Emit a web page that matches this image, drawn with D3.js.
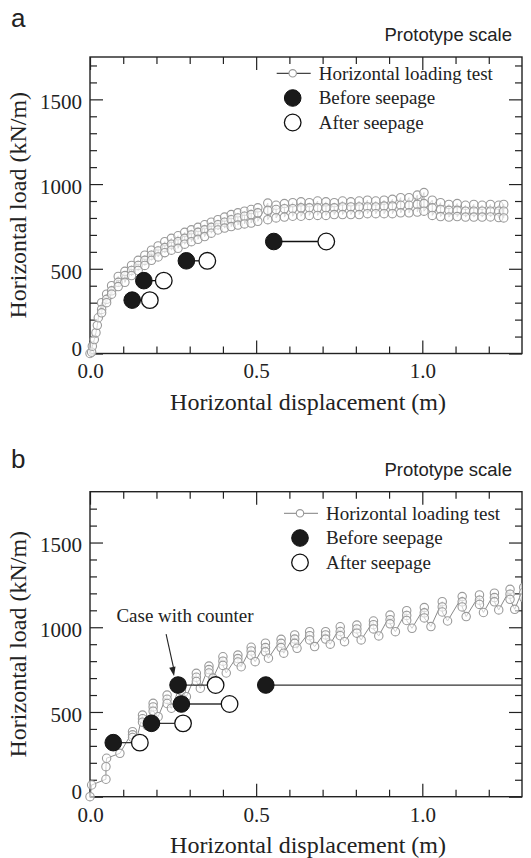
<!DOCTYPE html>
<html>
<head>
<meta charset="utf-8">
<script src="https://cdn.jsdelivr.net/npm/d3@7"></script>
<style>
  body { margin: 0; background: #fff; }
  svg text { font-family: "Liberation Serif", "Times New Roman", serif; fill: #222; }
</style>
</head>
<body>
<div id="chart"></div>
<script>
// tick labels
const xMajor = [0, 0.5, 1.0];
const yMajor = [0, 500, 1000, 1500];

// panel a: horizontal loading test (start of curve, then load cycles)
const aStartX = [0, 0.005, 0.007, 0.013, 0.018, 0.022, 0.025];
const aStartY = [0, 8, 43, 82, 123, 166, 211];
const aCycX   = [0.035, 0.05, 0.065, 0.085, 0.105, 0.125, 0.145, 0.165, 0.185, 0.205, 0.225, 0.245, 0.265, 0.285, 0.305, 0.325, 0.345, 0.365, 0.385, 0.405, 0.425, 0.445, 0.465, 0.485, 0.505, 0.535, 0.56, 0.585, 0.61, 0.635, 0.66, 0.685, 0.71, 0.735, 0.76, 0.785, 0.81, 0.835, 0.86, 0.885, 0.91, 0.935, 0.96, 0.985, 1.005, 1.03, 1.055, 1.08, 1.105, 1.13, 1.155, 1.18, 1.205, 1.23, 1.245];
const aCycTop = [300, 350, 400, 455, 485, 520, 550, 580, 610, 635, 660, 680, 695, 715, 730, 745, 760, 775, 790, 805, 820, 830, 840, 850, 860, 888, 875, 885, 890, 895, 890, 900, 895, 890, 900, 895, 900, 905, 900, 905, 910, 920, 920, 935, 950, 905, 890, 880, 885, 875, 880, 875, 880, 875, 880];
const aCycMid = [260, 320, 370, 420, 460, 490, 520, 550, 580, 605, 625, 645, 660, 680, 700, 715, 730, 745, 760, 775, 790, 800, 810, 820, 830, 845, 850, 855, 855, 860, 860, 860, 860, 860, 865, 865, 865, 865, 865, 870, 870, 875, 875, 880, 885, 860, 850, 845, 845, 840, 840, 840, 840, 840, 840];
const aCycLow = [240, 300, 350, 395, 420, 460, 490, 520, 550, 570, 595, 610, 621, 645, 660, 674, 690, 710, 729, 740, 749, 758, 765, 770, 780, 790, 800, 805, 810, 810, 815, 815, 815, 820, 820, 820, 820, 825, 825, 825, 825, 830, 830, 835, 840, 815, 808, 805, 808, 805, 805, 805, 806, 802, 800];

// panel a: seepage tests
const aBeforeX = [0.127, 0.162, 0.29, 0.553];
const aAfterX  = [0.18, 0.222, 0.353, 0.711];
const aLoad    = [315, 430, 547, 661];

// panel b: horizontal loading test
const bStartX = [0, 0.005, 0.048, 0.048, 0.05, 0.09];
const bStartY = [0, 69, 103, 177, 227, 256];
const bCycX    = [0.128, 0.158, 0.19, 0.232, 0.275, 0.32, 0.358, 0.4, 0.445, 0.485, 0.528, 0.575, 0.616, 0.661, 0.709, 0.753, 0.803, 0.853, 0.903, 0.953, 1.006, 1.06, 1.12, 1.172, 1.217, 1.264, 1.305];
const bCycTop  = [384, 482, 551, 600, 675, 728, 771, 826, 836, 882, 906, 929, 955, 974, 974, 1003, 1013, 1037, 1072, 1098, 1116, 1151, 1181, 1191, 1201, 1224, 1235];
const bCycMid1 = [365, 460, 530, 575, 650, 705, 750, 800, 815, 860, 880, 905, 930, 950, 955, 975, 990, 1015, 1045, 1070, 1085, 1120, 1150, 1160, 1175, 1195, 1205];
const bCycMid2 = [350, 440, 505, 550, 625, 680, 730, 775, 795, 835, 855, 880, 905, 925, 930, 950, 965, 990, 1020, 1040, 1055, 1090, 1120, 1135, 1150, 1165, 1175];
const bCycLowX = [0.14, 0.172, 0.205, 0.245, 0.29, 0.332, 0.37, 0.41, 0.455, 0.497, 0.537, 0.583, 0.623, 0.676, 0.723, 0.766, 0.816, 0.869, 0.919, 0.969, 1.026, 1.076, 1.132, 1.184, 1.23, 1.278, 1.32];
const bCycLow  = [335, 420, 472, 522, 590, 640, 700, 730, 767, 797, 817, 847, 876, 886, 900, 915, 925, 949, 974, 994, 1004, 1037, 1063, 1087, 1102, 1106, 1115];

// panel b: seepage tests
const bBeforeX = [0.07, 0.185, 0.275, 0.265, 0.529];
const bAfterX  = [0.15, 0.28, 0.42, 0.378, 1.45];
const bLoad    = [319, 433, 547, 659, 659];

const legendLabels = ["Horizontal loading test", "Before seepage", "After seepage"];

function buildTestA() {
  const pts = aStartX.map((x, i) => [x, aStartY[i]]);
  aCycX.forEach((x, i) => {
    pts.push([x, aCycTop[i]], [x, aCycMid[i]], [x, aCycLow[i]]);
  });
  return pts;
}
function buildTestB() {
  const pts = bStartX.map((x, i) => [x, bStartY[i]]);
  bCycX.forEach((x, i) => {
    pts.push([x, bCycTop[i]], [x, bCycMid1[i]], [x, bCycMid2[i]], [bCycLowX[i], bCycLow[i]]);
  });
  return pts;
}

const svg = d3.select("#chart").append("svg")
  .attr("width", 531).attr("height", 858);

svg.append("clipPath").attr("id", "clipR")
  .append("rect").attr("x", 0).attr("y", 0).attr("width", 522).attr("height", 858);

function drawPanel(p) {
  const x = d3.scaleLinear().domain([0, 1.3]).range([90, 522]);
  const y = d3.scaleLinear().domain([0, p.yMax]).range([p.yBottom, p.yTop]);
  const g = svg.append("g");

  const xMinor = d3.range(1, 13).map(d => d / 10).filter(d => !xMajor.includes(d));
  const yMinor = d3.range(1, p.yMax / 100).map(d => d * 100).filter(d => !yMajor.includes(d));

  function styleAxis(sel) {
    sel.select(".domain").remove();
    sel.selectAll("line").attr("stroke", "#222").attr("stroke-width", 1.2);
    sel.selectAll("text").attr("font-family", "Liberation Serif").attr("font-size", 21).attr("fill", "#222");
  }

  // bottom
  g.append("g").attr("transform", `translate(0,${y(0)})`)
    .call(d3.axisBottom(x).tickValues(xMajor).tickSize(-13).tickPadding(10).tickFormat(d3.format(".1f")))
    .call(styleAxis);
  g.append("g").attr("transform", `translate(0,${y(0)})`)
    .call(d3.axisBottom(x).tickValues(xMinor).tickSize(-7).tickFormat(""))
    .call(styleAxis);
  // top
  g.append("g").attr("transform", `translate(0,${y(p.yMax)})`)
    .call(d3.axisTop(x).tickValues(xMajor).tickSize(-13).tickFormat(""))
    .call(styleAxis);
  g.append("g").attr("transform", `translate(0,${y(p.yMax)})`)
    .call(d3.axisTop(x).tickValues(xMinor).tickSize(-7).tickFormat(""))
    .call(styleAxis);
  // left
  g.append("g").attr("transform", `translate(${x(0)},0)`)
    .call(d3.axisLeft(y).tickValues(yMajor).tickSize(-13).tickPadding(8).tickFormat(d3.format("d")))
    .call(styleAxis)
    .call(s => s.selectAll("text").attr("dy", d => d === 0 ? "0.1em" : "0.45em"));
  g.append("g").attr("transform", `translate(${x(0)},0)`)
    .call(d3.axisLeft(y).tickValues(yMinor).tickSize(-7).tickFormat(""))
    .call(styleAxis);
  // right
  g.append("g").attr("transform", `translate(${x(1.3)},0)`)
    .call(d3.axisRight(y).tickValues(yMajor).tickSize(-13).tickFormat(""))
    .call(styleAxis);
  g.append("g").attr("transform", `translate(${x(1.3)},0)`)
    .call(d3.axisRight(y).tickValues(yMinor).tickSize(-7).tickFormat(""))
    .call(styleAxis);

  g.append("rect")
    .attr("x", x(0)).attr("y", y(p.yMax))
    .attr("width", x(1.3) - x(0)).attr("height", y(0) - y(p.yMax))
    .attr("fill", "none").attr("stroke", "#222").attr("stroke-width", 1.4);

  // loading test
  const data = g.append("g").attr("clip-path", "url(#clipR)");
  const pts = p.test;
  data.append("path")
    .datum(pts)
    .attr("d", d3.line().x(d => x(d[0])).y(d => y(d[1])))
    .attr("fill", "none").attr("stroke", p.testLine).attr("stroke-width", 1);
  data.selectAll("circle.test").data(pts).enter().append("circle")
    .attr("class", "test")
    .attr("cx", d => x(d[0])).attr("cy", d => y(d[1])).attr("r", 4.2)
    .attr("fill", "#fff").attr("fill-opacity", 0.6)
    .attr("stroke", "#9a9a9a").attr("stroke-width", 1.1);

  // seepage
  const seep = p.load.map((l, i) => ({ b: p.before[i], a: p.after[i], l }));
  data.selectAll("line.seep").data(seep).enter().append("line")
    .attr("x1", d => x(d.b)).attr("x2", d => x(d.a))
    .attr("y1", d => y(d.l)).attr("y2", d => y(d.l))
    .attr("stroke", p.seepLine).attr("stroke-width", 1.3);
  data.selectAll("circle.after").data(seep).enter().append("circle")
    .attr("cx", d => x(d.a)).attr("cy", d => y(d.l)).attr("r", 8.3)
    .attr("fill", "#fff").attr("stroke", "#111").attr("stroke-width", 1.3);
  data.selectAll("circle.before").data(seep).enter().append("circle")
    .attr("cx", d => x(d.b)).attr("cy", d => y(d.l)).attr("r", 8.3)
    .attr("fill", "#1a1a1a").attr("stroke", "#111").attr("stroke-width", 1);

  // legend
  const lg = g.append("g").attr("transform", `translate(${p.legX},${p.legY})`);
  lg.append("line").attr("x1", -16).attr("x2", 18).attr("y1", 0).attr("y2", 0)
    .attr("stroke", p.legLine).attr("stroke-width", 1.2);
  lg.append("circle").attr("cx", 0).attr("cy", 0).attr("r", 3.7)
    .attr("fill", "#fff").attr("stroke", "#999").attr("stroke-width", 1.1);
  lg.append("circle").attr("cx", 0).attr("cy", 24.7).attr("r", 8.3)
    .attr("fill", "#1a1a1a").attr("stroke", "#111");
  lg.append("circle").attr("cx", 0).attr("cy", 49.2).attr("r", 8.3)
    .attr("fill", "#fff").attr("stroke", "#111").attr("stroke-width", 1.3);
  legendLabels.forEach((t, i) => {
    lg.append("text").attr("x", 26).attr("y", i * 24.5 + 6.7)
      .attr("font-size", 19).text(t);
  });

  // titles
  g.append("text").attr("x", 308).attr("y", y(0) + 56)
    .attr("text-anchor", "middle").attr("font-size", 24)
    .text("Horizontal displacement (m)");
  g.append("text")
    .attr("transform", `translate(26,${(y(0) + y(p.yMax)) / 2}) rotate(-90)`)
    .attr("text-anchor", "middle").attr("font-size", 24)
    .text("Horizontal load (kN/m)");
  g.append("text").attr("x", 512).attr("y", p.yTop - 16)
    .attr("text-anchor", "end").attr("font-size", 18.5)
    .style("font-family", "'Liberation Sans', Arial, sans-serif")
    .text("Prototype scale");
  g.append("text").attr("x", 11).attr("y", p.labelY)
    .attr("font-size", 26)
    .style("font-family", "'Liberation Sans', Arial, sans-serif")
    .text(p.label);

  return { x, y, g };
}

drawPanel({
  label: "a", labelY: 27, yMax: 1750, yTop: 57, yBottom: 353.5,
  test: buildTestA(), testLine: "#999",
  before: aBeforeX, after: aAfterX, load: aLoad, seepLine: "#111",
  legX: 292.7, legY: 73.3, legLine: "#444"
});

const pb = drawPanel({
  label: "b", labelY: 468, yMax: 1800, yTop: 491.7, yBottom: 796.7,
  test: buildTestB(), testLine: "#8a8a8a",
  before: bBeforeX, after: bAfterX, load: bLoad, seepLine: "#333",
  legX: 300, legY: 513.3, legLine: "#999"
});

// annotation in panel b
const annX = 0.286, annY = 1033;
pb.g.append("text").attr("x", pb.x(annX)).attr("y", pb.y(annY))
  .attr("text-anchor", "middle").attr("font-size", 19)
  .text("Case with counter");
const tipX = pb.x(bBeforeX[3]) - 4, tipY = pb.y(bLoad[3]) - 9;
const startX = pb.x(0.229), startY = pb.y(960);
pb.g.append("line")
  .attr("x1", startX).attr("y1", startY).attr("x2", tipX).attr("y2", tipY - 6)
  .attr("stroke", "#222").attr("stroke-width", 1.1);
const ang = Math.atan2(tipY - startY, tipX - startX);
const ah = 9, aw = 3.2;
const bx = tipX - ah * Math.cos(ang), by = tipY - ah * Math.sin(ang);
pb.g.append("path")
  .attr("d", `M${tipX},${tipY}L${bx - aw * Math.sin(ang)},${by + aw * Math.cos(ang)}L${bx + aw * Math.sin(ang)},${by - aw * Math.cos(ang)}Z`)
  .attr("fill", "#222");
</script>
</body>
</html>
